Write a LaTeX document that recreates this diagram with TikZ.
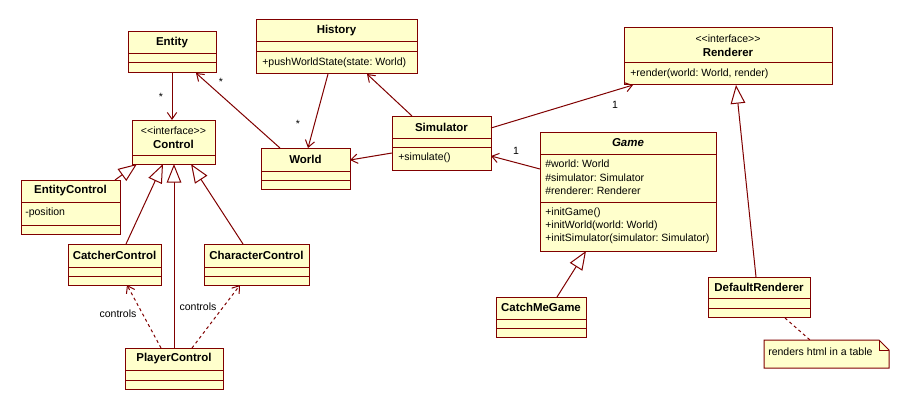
\documentclass[tikz,border=0pt]{standalone}
\usepackage{fontspec}
\setmainfont{Liberation Sans}
\usetikzlibrary{arrows.meta,fit,calc}
\definecolor{lnc}{RGB}{128,0,0}
\definecolor{fillc}{RGB}{255,255,204}
\frenchspacing
\newcommand{\fs}{\fontsize{7.9}{10}\selectfont}
\newcommand{\fb}{\fontsize{8.6}{10}\selectfont\bfseries}
\newcommand{\stlab}{{<}{<}interface{>}{>}}
\newcommand{\umlbox}[6]{%
  \coordinate (#1-a) at (#2,#3);
  \coordinate (#1-b) at (#4,#5);
  \node[clsbox, fit=(#1-a)(#1-b)] (#1) {};
  \foreach \d in {#6} {\draw[sepline] (#2,\d) -- (#4,\d);}
}
\begin{document}
\frenchspacing
\begin{tikzpicture}[x=0.75pt,y=-0.75pt,
  clsbox/.style={draw=lnc, fill=fillc, line width=0.75pt, inner sep=0pt, outer sep=0pt},
  sepline/.style={draw=lnc, line width=0.75pt},
  cname/.style={font=\fb, inner sep=0pt},
  ctext/.style={font=\fs, anchor=west, inner sep=0pt},
  stereo/.style={font=\fs, inner sep=0pt},
  lbl/.style={font=\fs, inner sep=0pt},
  nav/.style={draw=lnc, line width=0.75pt, -{Straight Barb[length=5pt,width=7pt]}},
  gen/.style={draw=lnc, line width=0.75pt, -{Triangle[open,length=14pt,width=11pt,fill=white]}},
  dep/.style={nav, dash pattern=on 2.25pt off 2.25pt},
  notelink/.style={draw=lnc, line width=0.75pt, dash pattern=on 2.25pt off 2.25pt},
  notebox/.style={draw=lnc, fill=fillc, line width=0.75pt}
]
\useasboundingbox[fill=white] (0,0) rectangle (910,410);

% classes
\umlbox{entity}{128}{32}{216}{73}{54,63}
\umlbox{control}{132}{120}{215}{164}{155}
\umlbox{ectl}{21}{180}{120}{234}{202,225}
\umlbox{history}{256}{20}{417}{74}{42,52}
\umlbox{world}{261}{148}{350}{189}{171,180}
\umlbox{sim}{392}{116}{491}{170}{138,147}
\umlbox{game}{540}{132}{716}{251}{154,202}
\umlbox{renderer}{624}{28}{832}{85}{63}
\umlbox{catcher}{68}{244}{161}{285}{267,276}
\umlbox{character}{204}{244}{309}{285}{267,276}
\umlbox{player}{125}{348}{223}{389}{370,380}
\umlbox{cmgame}{496}{297}{586}{337}{319,328}
\umlbox{defrend}{708}{277}{810}{317}{298,308}

% note
\coordinate (note-a) at (764,340);
\coordinate (note-b) at (889,368);
\node[inner sep=0pt, outer sep=0pt, fit=(note-a)(note-b)] (note) {};
\draw[notebox] (764,340) -- (879,340) -- (889,350) -- (889,368) -- (764,368) -- cycle;
\draw[sepline] (879,340) -- (879,350) -- (889,350);
\node[ctext] (note-t) at (768,352) {renders html in a table};

% texts
\node[cname] (entity-t) at (172,43) {Entity};
\node[stereo] (control-s) at (173.5,131) {\stlab};
\node[cname] (control-t) at (173.5,144) {Control};
\node[cname] (ectl-t) at (70.5,191) {EntityControl};
\node[ctext] (ectl-a) at (25,213) {-position};
\node[cname] (history-t) at (336.5,31) {History};
\node[ctext] (history-m) at (262,63) {+pushWorldState(state: World)};
\node[cname] (world-t) at (305.5,159) {World};
\node[cname] (sim-t) at (441.5,127) {Simulator};
\node[ctext] (sim-m) at (398,158) {+simulate()};
\node[cname, font=\fb\itshape] (game-t) at (628,143) {Game};
\node[ctext] (game-a1) at (545,164) {\#world: World};
\node[ctext] (game-a2) at (545,178) {\#simulator: Simulator};
\node[ctext] (game-a3) at (545,191) {\#renderer: Renderer};
\node[ctext] (game-m1) at (545,213) {+initGame()};
\node[ctext] (game-m2) at (545,226) {+initWorld(world: World)};
\node[ctext] (game-m3) at (545,239) {+initSimulator(simulator: Simulator)};
\node[stereo] (renderer-s) at (728,39) {\stlab};
\node[cname] (renderer-t) at (728,52) {Renderer};
\node[ctext] (renderer-m) at (630,74) {+render(world: World, render)};
\node[cname] (catcher-t) at (114.5,255) {CatcherControl};
\node[cname] (character-t) at (256.5,255) {CharacterControl};
\node[cname] (player-t) at (174,359) {PlayerControl};
\node[cname] (cmgame-t) at (541,307) {CatchMeGame};
\node[cname] (defrend-t) at (759,287) {DefaultRenderer};

% associations
\draw[nav] (entity.south) -- (entity.south |- control.north);
\draw[nav] ($(world.north west)+(19,0)$) -- ($(entity.south west)+(68,0)$);
\draw[nav] ($(history.south west)+(72,0)$) -- ($(world.north west)+(47,0)$);
\draw[nav] ($(sim.north west)+(20,0)$) -- ($(history.south west)+(111,0)$);
\draw[nav] ($(sim.north west)+(0,37)$) -- ($(world.north east)+(0,12)$);
\draw[nav] ($(sim.north east)+(0,12)$) -- ($(renderer.south west)+(9,0)$);
\draw[nav] ($(game.north west)+(0,37)$) -- ($(sim.north east)+(0,40)$);

% generalizations
\draw[gen] ($(ectl.north west)+(94,0)$) -- ($(control.south west)+(5,0)$);
\draw[gen] ($(catcher.north west)+(58,0)$) -- ($(control.south west)+(31,0)$);
\draw[gen] ($(player.north west)+(49,0)$) -- ($(control.south west)+(42,0)$);
\draw[gen] ($(character.north west)+(39,0)$) -- ($(control.south west)+(59,0)$);
\draw[gen] ($(cmgame.north west)+(61,0)$) -- ($(game.south west)+(46,0)$);
\draw[gen] ($(defrend.north west)+(48,0)$) -- ($(renderer.south west)+(112,0)$);

% dependencies
\draw[dep] ($(player.north west)+(36,0)$) -- ($(catcher.south west)+(59,0)$);
\draw[dep] ($(player.north west)+(67,0)$) -- ($(character.south west)+(36,0)$);
\draw[notelink] ($(defrend.south west)+(77,1)$) -- ($(note.north west)+(46,0)$);

% labels
\node[lbl] (l1) at (161,97) {*};
\node[lbl] (l2) at (221,82) {*};
\node[lbl] (l3) at (298,124) {*};
\node[lbl] (l4) at (615,105) {1};
\node[lbl] (l5) at (516,151) {1};
\node[lbl] (l6) at (118,314) {controls};
\node[lbl] (l7) at (198,307) {controls};
\end{tikzpicture}
\end{document}
